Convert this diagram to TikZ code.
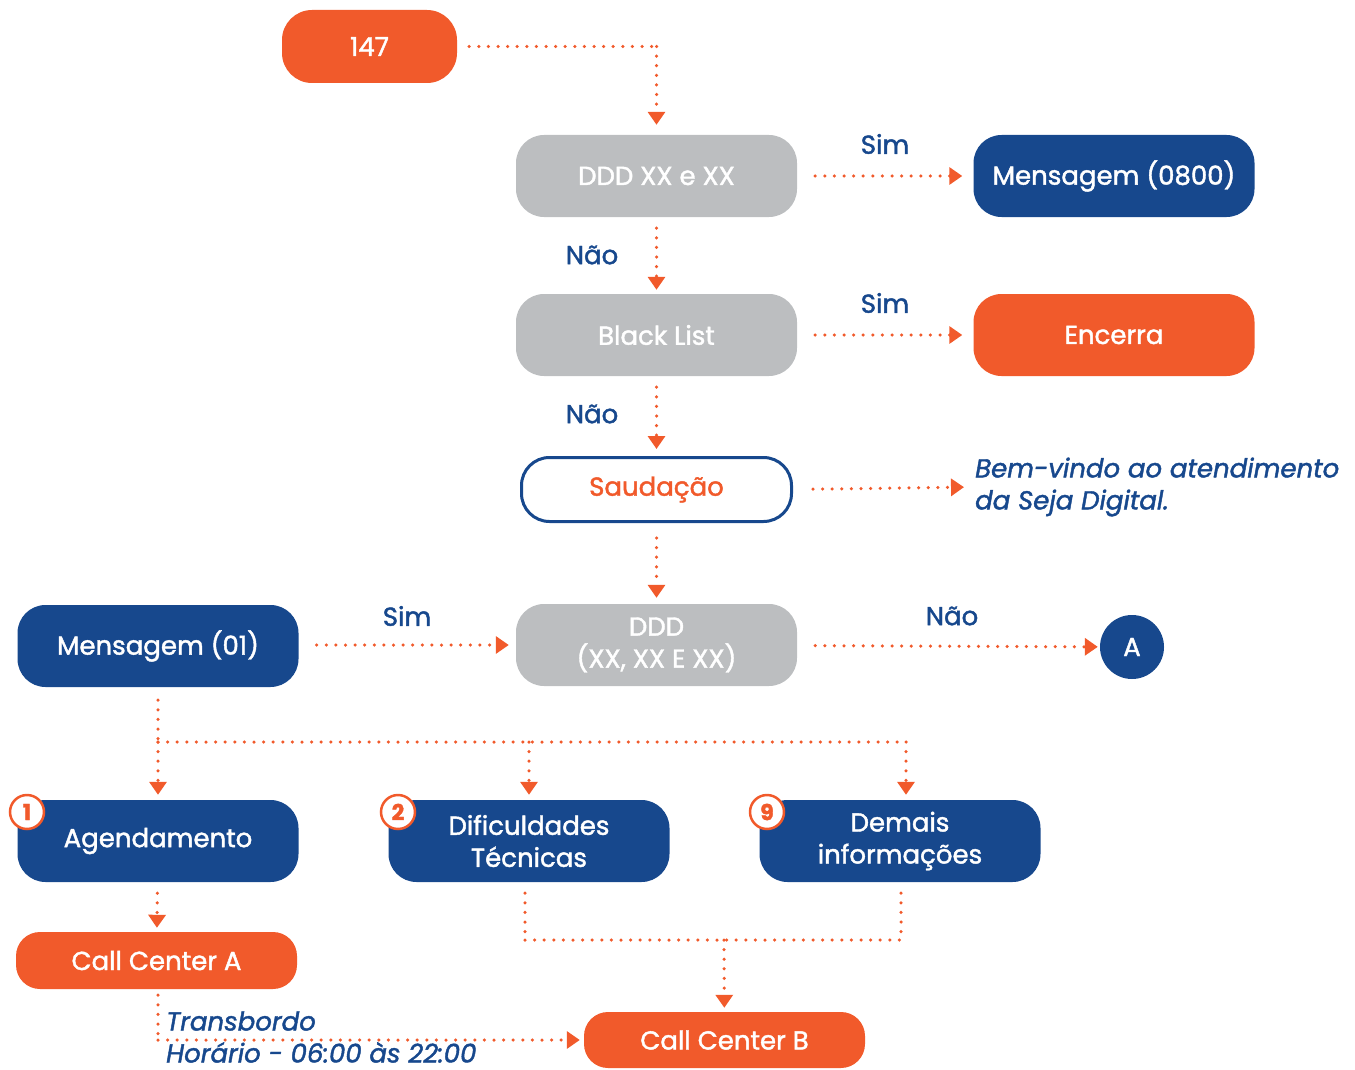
\documentclass[tikz,border=0pt]{standalone}
\usepackage{fontspec}
\setmainfont{Poppins}[RawFeature={embolden=1.6}]
\usetikzlibrary{arrows.meta,calc}
\definecolor{corange}{HTML}{F15A2B}
\definecolor{cblue}{HTML}{17488D}
\definecolor{cgray}{HTML}{BCBEC0}
\newcommand{\fs}{\fontsize{26}{32}\selectfont}
\begin{document}
\begin{tikzpicture}[x=1pt,y=-1pt,
  box/.style={rounded corners=28pt, minimum width=281pt, minimum height=82pt, inner sep=0pt, align=center, text=white, font=\fs},
  graybox/.style={box, fill=cgray},
  bluebox/.style={box, fill=cblue},
  orangebox/.style={box, fill=corange},
  lbl/.style={text=cblue, font=\fs, inner sep=0pt},
  note/.style={text=cblue, font=\fs\itshape, inner sep=0pt, align=left},
  badge/.style={circle, draw=corange, line width=2.5pt, fill=white, minimum size=34pt, inner sep=0pt, text=corange, font=\fontsize{22}{22}\selectfont\bfseries},
  arr/.style={draw=corange, line width=3.5pt, dash pattern=on 0pt off 9.6pt, line cap=round, -{Triangle[length=13pt,width=17pt]}},
  dl/.style={draw=corange, line width=3.5pt, dash pattern=on 0pt off 9.6pt, line cap=round}
]
\useasboundingbox (0,0) rectangle (1355,1070);
% nodes
\node[orangebox, minimum width=175pt, minimum height=73pt, rounded corners=30pt] (n147) at (369.5,46.5) {147};
\node[graybox] (ddd1) at (656.5,176) {DDD XX e XX};
\node[bluebox] (m0800) at (1114,176) {Mensagem (0800)};
\node[graybox] (bl) at (656.5,335) {Black List};
\node[orangebox] (enc) at (1114,335) {Encerra};
\node[box, fill=white, draw=cblue, line width=3pt, minimum width=270pt, minimum height=64pt, text=corange] (sau) at (656.5,489.5) {Saudação};
\node[note, anchor=west] (bem) at (975,487) {Bem-vindo ao atendimento\\da Seja Digital.};
\node[graybox] (ddd2) at (656.5,645) {DDD\\(XX, XX E XX)};
\node[bluebox] (m01) at (158,646) {Mensagem (01)};
\node[circle, fill=cblue, minimum size=64pt, inner sep=0pt, text=white, font=\fs] (A) at (1132,647) {A};
\node[bluebox] (ag) at (158,841) {Agendamento};
\node[bluebox] (dif) at (529,841) {Dificuldades\\Técnicas};
\node[bluebox] (dem) at (900,841) {Demais\\informações};
\node[orangebox, minimum height=57pt, rounded corners=24pt] (cca) at (156.5,960.5) {Call Center A};
\node[orangebox, minimum height=56pt, rounded corners=24pt] (ccb) at (724.5,1040) {Call Center B};
\node[badge] (b1) at (27,812) {1};
\node[badge] (b2) at (398,812) {2};
\node[badge] (b9) at (767,812) {9};
% labels
\node[lbl] (s1) at (885,144) {Sim};
\node[lbl] (n1) at (592,255) {Não};
\node[lbl] (s2) at (885,303) {Sim};
\node[lbl] (n2) at (592,414) {Não};
\node[lbl] (s3) at (407,616) {Sim};
\node[lbl] (n3) at (952,616) {Não};
\node[note, anchor=west] (tr) at (166,1037) {Transbordo\\Horário - 06:00 às 22:00};
% coordinates
\coordinate (c147) at (656.5,46.5);
\coordinate (j0) at (158,742);
\coordinate (j1) at (529,742);
\coordinate (j2) at (906,742);
\coordinate (k0) at (525,940);
\coordinate (k1) at (724,940);
\coordinate (k2) at (901,940);
\coordinate (q0) at (158,1040);
% connectors
\draw[dl, shorten <=12pt] (n147) -- (c147);
\draw[arr, shorten >=10pt] (c147) -- (ddd1);
\draw[arr, shorten <=18pt, shorten >=11pt] (ddd1) -- (m0800);
\draw[arr, shorten <=11pt, shorten >=4pt] (ddd1) -- (bl);
\draw[arr, shorten <=18pt, shorten >=11pt] (bl) -- (enc);
\draw[arr, shorten <=11pt, shorten >=7pt] (bl) -- (sau);
\draw[arr, shorten <=20pt, shorten >=11pt] (sau.east) -- (bem.west);
\draw[arr, shorten <=15pt, shorten >=6pt] (sau) -- (ddd2);
\draw[arr, shorten <=18pt, shorten >=7pt] (m01.east |- ddd2) -- (ddd2);
\draw[arr, shorten <=18pt, shorten >=2pt] (ddd2) -- (A);
\draw[dl, shorten <=13pt] (m01) -- (j0);
\draw[arr, shorten >=5pt] (j0) -- (ag);
\draw[dl] (j0) -- (j2);
\draw[arr, shorten >=5pt] (j1) -- (dif);
\draw[arr, shorten >=5pt] (j2) -- (j2 |- dem.north);
\draw[arr, shorten <=11pt, shorten >=4pt] (ag) -- (cca);
\draw[dl, shorten <=6pt] (cca.south -| q0) -- (q0);
\draw[arr, shorten >=4pt] (q0) -- (ccb);
\draw[dl, shorten <=11pt] (dif.south -| k0) -- (k0);
\draw[dl] (k0) -- (k2);
\draw[dl, shorten <=11pt] (dem.south -| k2) -- (k2);
\draw[arr, shorten >=4pt] (k1) -- (ccb);
\end{tikzpicture}
\end{document}
